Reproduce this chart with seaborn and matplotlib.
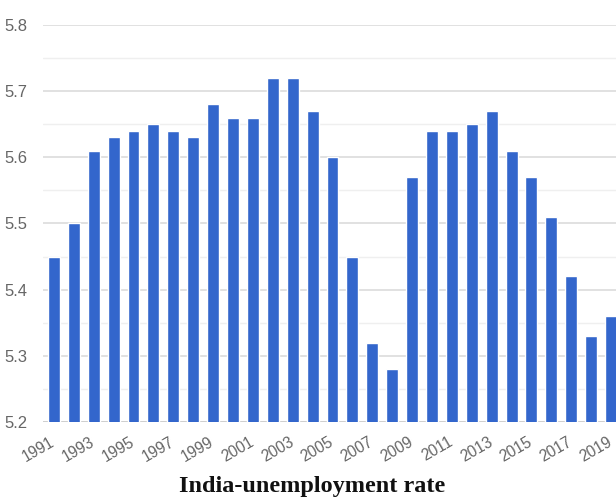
import numpy as np
import pandas as pd
import matplotlib
matplotlib.use("Agg")
import matplotlib.pyplot as plt
import seaborn as sns
from matplotlib.ticker import MultipleLocator
from matplotlib.transforms import ScaledTranslation

# India unemployment rate
years = list(range(1991, 2020))
rates = [5.45, 5.50, 5.61, 5.63, 5.64, 5.65, 5.64, 5.63, 5.68, 5.66,
         5.66, 5.72, 5.72, 5.67, 5.60, 5.45, 5.32, 5.28, 5.57, 5.64,
         5.64, 5.65, 5.67, 5.61, 5.57, 5.51, 5.42, 5.33, 5.36]
y_ticks = [5.2, 5.3, 5.4, 5.5, 5.6, 5.7, 5.8]
title = "India-unemployment rate"

df = pd.DataFrame({"year": [str(y) for y in years], "rate": rates})

sns.set_theme(style="white")
plt.rcParams["font.family"] = ["Liberation Sans", "DejaVu Sans"]

fig = plt.figure(figsize=(6.16, 5.01), dpi=100)
ax = fig.add_axes([43 / 616, 79 / 501, 1 - 43 / 616, (422 - 25) / 501])

sns.barplot(data=df, x="year", y="rate", color="#3366cc", saturation=1,
            width=0.6, ax=ax, zorder=3)

ax.set_ylim(5.2, 5.8)
ax.set_xlim(-0.55, 28.25)
ax.set_yticks(y_ticks)
ax.set_yticklabels([f"{v:.1f}" for v in y_ticks])
ax.yaxis.set_minor_locator(MultipleLocator(0.05))
ax.grid(axis="y", which="major", color="#dcdcdc", linewidth=1.2, zorder=0)
ax.grid(axis="y", which="minor", color="#efefef", linewidth=1.0, zorder=0)
ax.set_axisbelow(True)

tick_pos = list(range(0, len(years), 2))
ax.set_xticks(tick_pos)
ax.set_xticklabels([str(years[i]) for i in tick_pos], rotation=30,
                   ha="right", va="top", rotation_mode="anchor")
ax.tick_params(axis="x", length=0, pad=9, labelsize=11.2, colors="#666666")
ax.tick_params(axis="y", length=0, pad=11, labelsize=12, colors="#666666")

# small nudge left so the last year label stays inside the figure
shift = ScaledTranslation(-4 / 100, 0, fig.dpi_scale_trans)
for lbl in ax.get_xticklabels():
    lbl.set_transform(lbl.get_transform() + shift)

for s in ax.spines.values():
    s.set_visible(False)
ax.axhline(5.2, color="#cccccc", linewidth=1.2, zorder=2)

ax.set_xlabel("")
ax.set_ylabel("")

fig.text(312 / 616, 4 / 501, title, ha="center", va="bottom",
         fontsize=17.5, fontweight="bold", family=["Liberation Serif", "DejaVu Serif"],
         color="#111111")

fig.savefig("out.png", dpi=100)
